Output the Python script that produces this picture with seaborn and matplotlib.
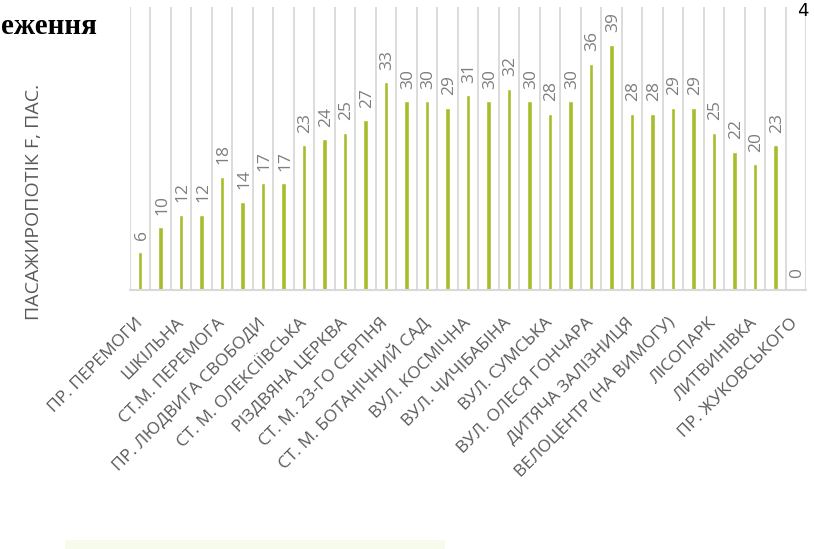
import numpy as np
import pandas as pd
import matplotlib
matplotlib.use("Agg")
import matplotlib.pyplot as plt
import seaborn as sns

# Passenger flow per stop, in stop order along the route
flow = [6, 10, 12, 12, 18, 14, 17, 17, 23, 24, 25, 27, 33, 30, 30, 29, 31,
        30, 32, 30, 28, 30, 36, 39, 28, 28, 29, 29, 25, 22, 20, 23, 0]

# Axis labels are shown for every second stop
stop_labels = [
    "ПР. ПЕРЕМОГИ",
    "ШКІЛЬНА",
    "СТ.М. ПЕРЕМОГА",
    "ПР. ЛЮДВИГА СВОБОДИ",
    "СТ. М. ОЛЕКСІЇВСЬКА",
    "РІЗДВЯНА ЦЕРКВА",
    "СТ. М. 23-ГО СЕРПНЯ",
    "СТ. М. БОТАНІЧНИЙ САД",
    "ВУЛ. КОСМІЧНА",
    "ВУЛ. ЧИЧІБАБІНА",
    "ВУЛ. СУМСЬКА",
    "ВУЛ. ОЛЕСЯ ГОНЧАРА",
    "ДИТЯЧА ЗАЛІЗНИЦЯ",
    "ВЕЛОЦЕНТР (НА ВИМОГУ)",
    "ЛІСОПАРК",
    "ЛИТВИНІВКА",
    "ПР. ЖУКОВСЬКОГО",
]

y_title = "ПАСАЖИРОПОТІК F, ПАС."
heading_tail = "еження"
corner_mark = "4"

sns.set_theme(style="white")
plt.rcParams["font.family"] = ["Open Sans", "DejaVu Sans"]

df = pd.DataFrame({"stop": np.arange(len(flow)), "flow": flow})

W, H = 814, 549
fig = plt.figure(figsize=(W / 100, H / 100), dpi=100)
ax = fig.add_axes([130 / W, 1 - 290 / H, 676 / W, 283 / H])

bar_color = "#a9bc2c"
sns.barplot(data=df, x="stop", y="flow", color=bar_color, width=0.22,
            saturation=1, ax=ax, order=list(range(len(flow))))

ax.set_xlim(-0.5, len(flow) - 0.5)
ax.set_ylim(0, 45)

# vertical separators between stops
ax.set_xticks(np.arange(-0.5, len(flow), 1.0), minor=True)
ax.grid(which="minor", axis="x", color="#d9d9d9", linewidth=1.3)
ax.grid(which="major", visible=False)
ax.set_axisbelow(True)

ax.set_xticks(np.arange(0, len(flow), 2))
ax.set_xticklabels(stop_labels, rotation=45, ha="right", va="center",
                   rotation_mode="anchor", color="#595959", fontsize=12.5)
ax.tick_params(axis="x", which="both", length=0, pad=22)
ax.set_yticks([])

for s in ["top", "right", "left"]:
    ax.spines[s].set_visible(False)
ax.spines["bottom"].set_color("#d9d9d9")
ax.spines["bottom"].set_linewidth(1.5)

ax.set_xlabel("")
ax.set_ylabel(y_title, color="#595959", fontsize=14)
ax.yaxis.set_label_coords(-87 / 676, 0.31)

# value labels above the bars
for cont in ax.containers:
    for rect, v in zip(cont, flow):
        ax.annotate(f"{v}", (rect.get_x() + rect.get_width() / 2, v),
                    xytext=(1, 9), textcoords="offset points",
                    rotation=90, ha="center", va="bottom",
                    color="#7f7f7f", fontsize=12.5)

# surrounding page fragments
fig.text(1 / W, 1 - 26 / H, heading_tail, family="Liberation Serif",
         fontweight="bold", fontsize=21, color="black", ha="left", va="center")
fig.text(797 / W, 1 - 11 / H, corner_mark, fontsize=13, color="black",
         ha="left", va="center", family="DejaVu Sans")

# faint tinted band at the bottom edge
band = plt.Rectangle((65 / W, 0), 380 / W, 9 / H, transform=fig.transFigure,
                     color="#f7fbec", zorder=0, linewidth=0)
fig.patches.append(band)

fig.savefig("out.png", dpi=100)
